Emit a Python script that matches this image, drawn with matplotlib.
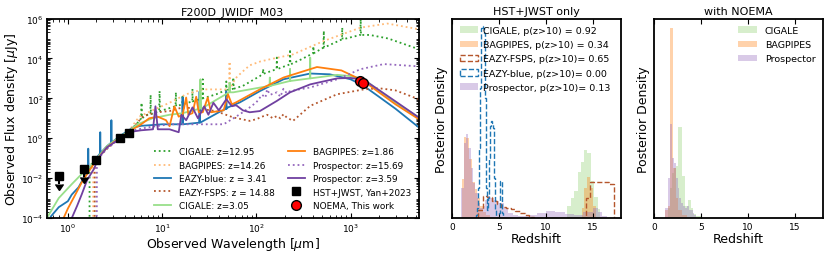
import numpy as np
import matplotlib
matplotlib.use("Agg")
import matplotlib.pyplot as plt

# ---- SED data (wavelength in um, flux in uJy) ----
cig_hz_lam = [1.695, 1.70, 2.0, 2.6, 3.5, 4.4, 5.5, 6.0, 6.05, 6.1, 7.0, 7.5, 7.55, 7.6, 9.3, 9.4, 9.5,
              13.9, 14.0, 14.1, 16.4, 16.5, 16.6, 20.9, 21.0, 21.1, 26.8, 27.0, 27.2, 37.6, 47.7, 48, 48.3,
              56.6, 57, 57.4, 72, 109, 117, 118, 119, 164, 165, 166, 226, 228, 230, 300, 400, 403, 406,
              516, 520, 524, 810, 816, 822, 1270, 1280, 1290, 1600, 2500, 5300]
cig_hz_f = [1e-6, 0.04, 0.09, 0.35, 1.0, 2.0, 6, 10, 60, 10, 15, 16, 150, 16, 23, 230, 23,
            40, 200, 40, 50, 150, 50, 70, 300, 70, 100, 900, 100, 160, 260, 700, 260,
            300, 1100, 300, 420, 1300, 1700, 3000, 1700, 2900, 11000, 2900, 5000, 29000, 5000, 9000, 18000, 40000, 18000,
            35000, 240000, 35000, 90000, 350000, 90000, 150000, 900000, 150000, 150000, 100000, 29000]

bag_hz_lam = [1.855, 1.86, 2.0, 2.6, 3.5, 4.4, 5.7, 7.9, 12, 18, 27, 50, 51.5, 52, 52.5, 60, 70, 85, 110,
              139, 245, 520, 1280, 2450, 5300]
bag_hz_f = [1e-6, 0.05, 0.09, 0.35, 1.0, 2.2, 12, 25, 60, 160, 280, 280, 300, 7000, 300, 1000, 2000, 4500,
            7000, 9000, 16000, 75000, 350000, 560000, 290000]

eblue_lam = [0.66, 0.8, 1.0, 1.1, 1.3, 1.5, 1.63, 1.645, 1.66, 1.8, 2.0, 2.19, 2.205, 2.22, 2.6, 2.88, 2.895,
             2.91, 3.5, 4.4, 5, 6, 8, 10, 16.3, 16.5, 16.7, 24.7, 25, 25.3, 40, 47.6, 48, 48.4, 50, 67, 109,
             194, 373, 600, 1000, 1380, 2000, 3000, 5300]
eblue_f = [1.2e-4, 3.5e-4, 7e-4, 1.5e-3, 3.5e-3, 0.012, 0.02, 0.3, 0.025, 0.04, 0.1, 0.17, 2.0, 0.18, 0.4, 0.6, 8,
           0.6, 1.2, 2.5, 3.5, 4.2, 4.6, 5, 5, 110, 5, 6, 220, 6, 20, 30, 220, 30, 35, 63, 230,
           900, 1750, 1600, 900, 420, 120, 30, 3.5]

efsps_lam = [1.925, 1.93, 2.0, 2.5, 3.5, 4.4, 5.3, 6.2, 7.3, 9, 12, 16.5, 25, 37, 57, 85, 100, 115, 130, 150,
             165, 180, 194, 210, 245, 373, 720, 1380, 2000, 3000, 5300]
efsps_f = [1e-6, 0.06, 0.08, 0.25, 1.0, 2.0, 5, 12, 16, 20, 23, 35, 30, 23, 11, 7.4, 9, 12, 15, 10,
           13, 10, 16, 11, 7.4, 42, 160, 280, 320, 250, 90]

cig_lz_lam = [0.6, 0.63, 0.8, 1.1, 1.4, 1.7, 2.0, 2.6, 3.5, 4.4, 5.5, 7.9, 12, 16.5, 25, 25.5, 26, 40, 51.5,
              52, 52.5, 57, 85, 138, 139, 140, 227, 228, 229, 372, 373, 374, 720, 1000, 1380, 2000, 3000, 5300]
cig_lz_f = [1e-4, 1.5e-4, 1e-3, 5e-3, 0.016, 0.035, 0.09, 0.4, 1.1, 2.2, 5, 10, 15, 18, 30, 900, 30, 100, 200,
            600, 200, 200, 280, 420, 1100, 420, 740, 3000, 740, 1000, 11000, 1000, 1500, 1300, 900, 250, 60, 11]

bag_lz_lam = [0.9, 1.0, 1.2, 1.4, 1.7, 2.0, 2.6, 3.5, 4.4, 5, 6, 7.3, 9, 11, 12, 13.5, 15, 16.5, 18, 19,
              21, 23, 24.5, 27, 30.5, 33, 45, 50, 55, 61, 109, 194, 440, 800, 1380, 2000, 3000, 5300]
bag_lz_f = [1e-4, 3e-4, 1.5e-3, 6e-3, 0.025, 0.08, 0.35, 1.0, 2.0, 3, 5, 10, 12, 8, 4, 40, 12, 15, 110, 15,
            18, 120, 20, 20, 110, 20, 25, 160, 50, 63, 280, 1100, 3700, 2500, 740, 200, 50, 9]

pro_hz_lam = [2.025, 2.03, 2.6, 3.5, 4.4, 5, 7, 12, 25, 45, 67, 85, 100, 115, 125, 130, 140, 165, 180, 194,
              210, 228, 373, 720, 1280, 2250, 5300]
pro_hz_f = [1e-6, 0.08, 0.3, 0.9, 1.8, 2.5, 3.5, 5, 5, 5, 16, 35, 63, 150, 110, 280, 150, 200, 120, 300,
            180, 230, 350, 900, 2900, 5200, 4000]

pro_lz_lam = [1.1, 1.25, 1.4, 1.6, 1.9, 2.1, 2.6, 3.5, 4.4, 5, 6, 8, 8.5, 9, 12, 15, 16, 18, 21, 24, 28, 31,
              35, 40, 48, 55, 61, 72, 85, 109, 165, 228, 373, 720, 1000, 1380, 2000, 3000, 5300]
pro_lz_f = [1e-4, 4e-4, 1.5e-3, 8e-3, 0.03, 0.1, 0.35, 0.9, 1.7, 2.2, 2.5, 2.8, 40, 2.8, 2.8, 2.0, 15, 8, 35,
            10, 40, 15, 60, 25, 90, 40, 45, 25, 20, 23, 74, 200, 500, 1000, 1050, 850, 260, 70, 11]

phot_lam = [2.0, 3.56, 4.4]
phot_f = [0.082, 0.97, 1.9]
phot_err = [0.01, 0.1, 0.15]
ulim_lam = [0.8, 1.5]
ulim_f = [0.013, 0.028]
noema_lam = [1250, 1350]
noema_f = [750, 580]

# ---- redshift posteriors (arbitrary density units) ----
cig_edges = [12.3, 12.7, 13.0, 13.4, 13.7, 14.1, 14.4, 14.8, 15.1, 15.5, 15.8]
cig_h = [12, 20, 27, 46, 56, 68, 65, 37, 21, 9]
bag_edges = [1.1, 1.3, 1.5, 1.8, 2.1, 2.4, 2.7, 3.0, 3.3, 3.6, 4.0,
             13.8, 14.1, 14.4, 14.7, 15.0, 15.3]
bag_h = [39, 81, 80, 59, 36, 29, 20, 12, 6, 3, 0,
         10, 30, 41, 30, 12]
efsps_edges = [2.75, 3.25, 3.75, 4.25, 4.75, 5.25, 5.75, 6.25, 6.75, 7.25, 7.75, 8.25, 8.75,
               14.25, 14.75, 15.25, 15.75, 16.25, 16.75, 17.25]
efsps_h = [8, 22, 21, 17, 14, 11, 10, 9, 7, 5, 3, 1, 0, 20, 36, 36, 36, 36, 34]
eblue_edges = [2.6, 2.7, 2.8, 2.9, 3.0, 3.1, 3.2, 3.3, 3.4, 3.5, 3.6, 3.7, 3.8, 3.9, 4.0, 4.1, 4.2, 4.3,
               4.4, 4.5, 4.6, 4.7, 5.0, 5.1, 5.2, 5.3, 5.4]
eblue_h = [3, 10, 30, 70, 130, 190, 192, 190, 185, 120, 30, 8, 20, 60, 92, 97, 97, 95, 90, 40, 8, 0,
           5, 37, 37, 5]
pro_edges = [1.0, 1.25, 1.5, 1.75, 2.0, 2.25, 2.5, 2.75, 3.0, 3.25, 3.5, 3.75, 4.0, 4.25, 4.5, 4.75, 5.0,
             5.5, 6.0, 6.5, 7.0, 8.0, 9.0, 10.0, 11.0, 12.0, 13.0, 14.0, 15.0, 15.5, 16.0, 16.5]
pro_h = [30, 75, 84, 70, 50, 35, 25, 15, 10, 12, 18, 22, 20, 20, 18, 17, 15, 10, 5, 3, 2, 3, 5, 7, 6, 4,
         3, 6, 10, 6, 2]

# with NOEMA
n_cig_edges = [1.5, 1.7, 1.9, 2.1, 2.3, 2.6, 2.95, 3.3, 3.6, 3.9, 4.2, 4.5, 5.0]
n_cig_h = [10, 30, 45, 50, 52, 91, 42, 12, 18, 10, 4, 2]
n_bag_edges = [1.2, 1.5, 1.7, 2.05, 2.3, 2.6, 3.0, 3.5]
n_bag_h = [8, 12, 190, 50, 20, 8, 3]
n_pro_edges = [1.2, 1.5, 1.7, 1.9, 2.1, 2.3, 2.5, 2.7, 2.9, 3.1, 3.3, 3.5, 3.7, 3.9, 4.1, 4.3, 4.5]
n_pro_h = [10, 40, 94, 60, 55, 40, 30, 20, 15, 12, 10, 12, 8, 8, 5, 3]

fsps_color = "#b5562c"
pro_color = "#7040a0"
lgreen = "#98df8a"

fig = plt.figure(figsize=(8.3, 2.55), dpi=100)
ax = fig.add_axes([0.0566, 0.141, 0.448, 0.7825])
ax2 = fig.add_axes([0.5446, 0.141, 0.2036, 0.7825])
ax3 = fig.add_axes([0.788, 0.141, 0.2036, 0.7825])

# SED panel
h1, = ax.plot(cig_hz_lam, cig_hz_f, ":", color="C2", lw=1.3, label="CIGALE: z=12.95")
h2, = ax.plot(bag_hz_lam, bag_hz_f, ":", color="#ffbb78", lw=1.3, label="BAGPIPES: z=14.26")
h3, = ax.plot(eblue_lam, eblue_f, "-", color="C0", lw=1.3, label="EAZY-blue: z = 3.41")
h4, = ax.plot(efsps_lam, efsps_f, ":", color=fsps_color, lw=1.3, label="EAZY-FSPS: z = 14.88")
h5, = ax.plot(cig_lz_lam, cig_lz_f, "-", color=lgreen, lw=1.3, label="CIGALE: z=3.05")
h6, = ax.plot(bag_lz_lam, bag_lz_f, "-", color="C1", lw=1.3, label="BAGPIPES: z=1.86")
h7, = ax.plot(pro_hz_lam, pro_hz_f, ":", color="#9467bd", lw=1.3, label="Prospector: z=15.69")
h8, = ax.plot(pro_lz_lam, pro_lz_f, "-", color=pro_color, lw=1.3, label="Prospector: z=3.59")
h9 = ax.errorbar(phot_lam, phot_f, yerr=phot_err, fmt="s", color="k", ms=6, zorder=5,
                 label="HST+JWST, Yan+2023")
ax.errorbar(ulim_lam, ulim_f, yerr=np.array(ulim_f) * 0.6, uplims=True, fmt="s", color="k",
            ms=6, zorder=5)
h10, = ax.plot(noema_lam, noema_f, "o", mfc="red", mec="k", ms=7, zorder=6, label="NOEMA, This work")

ax.set_xscale("log")
ax.set_yscale("log")
ax.set_xlim(0.6, 5300)
ax.set_ylim(1e-4, 1e6)
ax.set_yticks([1e-4, 1e-2, 1e0, 1e2, 1e4, 1e6])
ax.set_xlabel(r"Observed Wavelength [$\mu$m]", fontsize=9, labelpad=1)
ax.set_ylabel(r"Observed Flux density [$\mu$Jy]", fontsize=9, labelpad=1)
ax.set_title("F200D_JWIDF_M03", fontsize=8, pad=3)
ax.legend(handles=[h1, h2, h3, h4, h5, h6, h7, h8, h9, h10], loc="lower right", ncol=2,
          fontsize=6.4, frameon=False, handlelength=1.9, handletextpad=0.9, columnspacing=1.4,
          labelspacing=0.5, borderaxespad=0.5)

# posterior panels
ax2.hist(cig_edges[:-1], bins=cig_edges, weights=cig_h, histtype="stepfilled", color="#8fd16f",
         alpha=0.35, label="CIGALE, p(z>10) = 0.92")
ax2.hist(bag_edges[:-1], bins=bag_edges, weights=bag_h, histtype="stepfilled", color="C1",
         alpha=0.35, label="BAGPIPES, p(z>10) = 0.34")
ax2.hist(efsps_edges[:-1], bins=efsps_edges, weights=efsps_h, histtype="step", color=fsps_color,
         ls="--", lw=1.0, label="EAZY-FSPS, p(z>10)= 0.65")
ax2.hist(eblue_edges[:-1], bins=eblue_edges, weights=eblue_h, histtype="step", color="C0",
         ls="--", lw=1.0, label="EAZY-blue, p(z>10)= 0.00")
ax2.hist(pro_edges[:-1], bins=pro_edges, weights=pro_h, histtype="stepfilled", color="C4",
         alpha=0.35, label="Prospector, p(z>10)= 0.13")
ax2.set_title("HST+JWST only", fontsize=8, pad=3)
ax2.legend(loc="upper left", fontsize=6.8, frameon=False, labelspacing=0.55, borderaxespad=0.4,
           handletextpad=0.5)

ax3.hist(n_cig_edges[:-1], bins=n_cig_edges, weights=n_cig_h, histtype="stepfilled", color="#8fd16f",
         alpha=0.35, label="CIGALE")
ax3.hist(n_bag_edges[:-1], bins=n_bag_edges, weights=n_bag_h, histtype="stepfilled", color="C1",
         alpha=0.35, label="BAGPIPES")
ax3.hist(n_pro_edges[:-1], bins=n_pro_edges, weights=n_pro_h, histtype="stepfilled", color="C4",
         alpha=0.35, label="Prospector")
ax3.set_title("with NOEMA", fontsize=8, pad=3)
ax3.legend(loc="upper right", fontsize=6.8, frameon=False, labelspacing=0.55, borderaxespad=0.4)

for a in (ax2, ax3):
    a.set_xlim(0, 18)
    a.set_ylim(0, 200)
    a.set_xticks([0, 5, 10, 15])
    a.set_yticks([])
    a.set_xlabel("Redshift", fontsize=9, labelpad=1)
    a.set_ylabel("Posterior Density", fontsize=9, labelpad=3)

for a in (ax, ax2, ax3):
    a.tick_params(which="both", direction="in", top=True, right=True, labelsize=6.5, pad=2.5)
    a.tick_params(which="minor", length=2)
    for s in a.spines.values():
        s.set_linewidth(1.3)

fig.savefig("out.png", dpi=100)
